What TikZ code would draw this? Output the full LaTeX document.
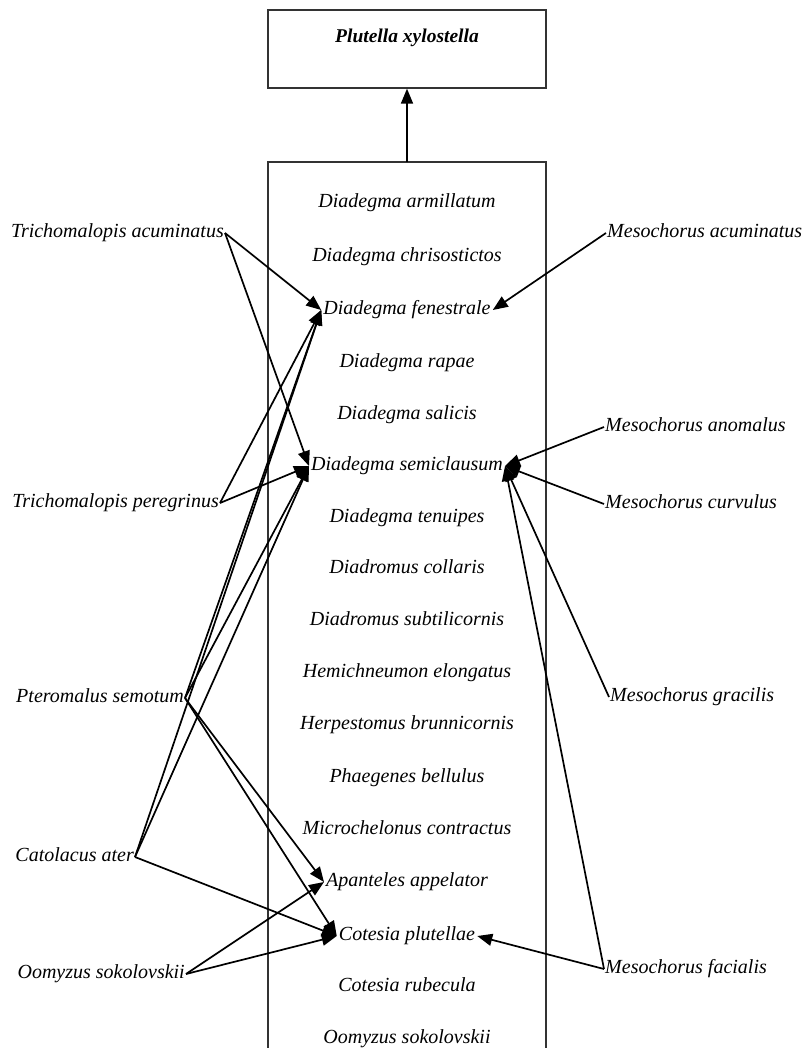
\documentclass[tikz,border=0pt]{standalone}
\usepackage{fontspec}
\setmainfont{Liberation Serif}
\usetikzlibrary{arrows.meta}
\begin{document}
\begin{tikzpicture}[x=1pt,y=-1pt,
  every node/.style={font=\fontsize{20}{23}\selectfont\itshape},
  boxline/.style={draw=black!80, line width=1.3pt},
  species/.style={inner sep=2pt, text height=13pt, text depth=4pt},
  leftsp/.style={species, anchor=east, inner sep=1pt},
  rightsp/.style={species, anchor=west, inner sep=1pt},
  link/.style={line width=1.7pt, -{Triangle[length=15pt,width=12pt]}},
]
\useasboundingbox (0,0) rectangle (806,1048);

% host box
\node[boxline, minimum width=278pt, minimum height=78pt, inner sep=0pt,
      text height=33pt, text depth=45pt, font=\fontsize{19.5}{22}\selectfont\bfseries\itshape]
  (host) at (407,49) {Plutella xylostella};

% parasitoid list box (open at the bottom)
\draw[boxline] (268,1048) -- (268,162) -- (546,162) -- (546,1048);
\coordinate (listtop) at (407,162);
\draw[link] (listtop) -- (host.south);

% primary parasitoids
\node[species] (arm) at (407,203)  {Diadegma armillatum};
\node[species] (chr) at (407,257)  {Diadegma chrisostictos};
\node[species] (fen) at (407,310)  {Diadegma fenestrale};
\node[species] (rap) at (407,363)  {Diadegma rapae};
\node[species] (sal) at (407,415)  {Diadegma salicis};
\node[species] (sem) at (407,466)  {Diadegma semiclausum};
\node[species] (ten) at (407,518)  {Diadegma tenuipes};
\node[species] (col) at (407,569)  {Diadromus collaris};
\node[species] (sub) at (407,621)  {Diadromus subtilicornis};
\node[species] (hem) at (407,673)  {Hemichneumon elongatus};
\node[species] (her) at (407,725)  {Herpestomus brunnicornis};
\node[species] (pha) at (407,778)  {Phaegenes bellulus};
\node[species] (mic) at (407,830)  {Microchelonus contractus};
\node[species] (app) at (407,882)  {Apanteles appelator};
\node[species] (cpl) at (407,936)  {Cotesia plutellae};
\node[species] (cru) at (407,987)  {Cotesia rubecula};
\node[species] (oom) at (407,1039) {Oomyzus sokolovskii};

% hyperparasitoids, left column
\node[leftsp] (ta) at (225,233) {Trichomalopis acuminatus};
\node[leftsp] (tp) at (220,503) {Trichomalopis peregrinus};
\node[leftsp] (ps) at (185,698) {Pteromalus semotum};
\node[leftsp] (ca) at (135,857) {Catolacus ater};
\node[leftsp] (os) at (186,974) {Oomyzus sokolovskii};

% hyperparasitoids, right column
\node[rightsp] (ma)  at (606,233) {Mesochorus acuminatus};
\node[rightsp] (man) at (604,427) {Mesochorus anomalus};
\node[rightsp] (mc)  at (604,504) {Mesochorus curvulus};
\node[rightsp] (mg)  at (609,697) {Mesochorus gracilis};
\node[rightsp] (mf)  at (604,969) {Mesochorus facialis};

% links from the left
\draw[link] (ta.east) -- (fen.west);
\draw[link] (ta.east) -- (sem.west);
\draw[link] (tp.east) -- (fen.west);
\draw[link] (tp.east) -- (sem.west);
\draw[link] (ps.east) -- (fen.west);
\draw[link] (ps.east) -- (sem.west);
\draw[link] (ps.east) -- (app.west);
\draw[link] (ps.east) -- (cpl.west);
\draw[link] (ca.east) -- (fen.west);
\draw[link] (ca.east) -- (sem.west);
\draw[link] (ca.east) -- (cpl.west);
\draw[link] (os.east) -- (app.west);
\draw[link] (os.east) -- (cpl.west);

% links from the right
\draw[link] (ma.west)  -- (fen.east);
\draw[link] (man.west) -- (sem.east);
\draw[link] (mc.west)  -- (sem.east);
\draw[link] (mg.west)  -- (sem.east);
\draw[link] (mf.west)  -- (sem.east);
\draw[link] (mf.west)  -- (cpl.east);
\end{tikzpicture}
\end{document}
